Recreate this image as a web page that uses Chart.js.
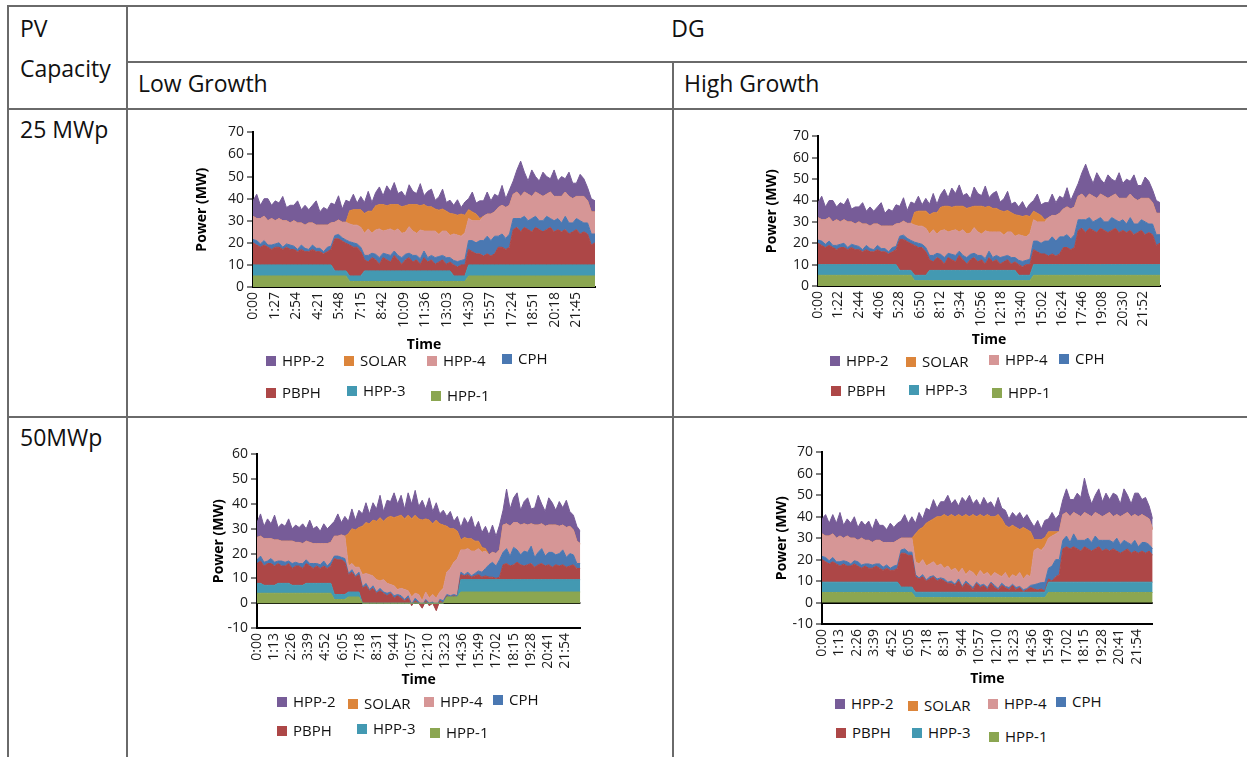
<!DOCTYPE html>
<html><head><meta charset="utf-8">
<script src="https://cdn.jsdelivr.net/npm/chart.js@4.4.0/dist/chart.umd.min.js"></script>
<style>
html,body{margin:0;padding:0;background:#fff}
body{width:1247px;height:757px;overflow:hidden;position:relative;font-family:"Open Sans",sans-serif;color:#111}
.ln{position:absolute;background:#6a6a6a}
.t{position:absolute;font-size:23px;line-height:23px;white-space:nowrap}
canvas{position:absolute}
.li{position:absolute;height:16px;white-space:nowrap;font-size:15px;line-height:15px}
.li i{position:absolute;left:0;top:3px;width:10px;height:10px}
.li span{position:absolute;left:16px;top:0}
</style></head><body>
<div class="ln" style="left:7px;top:5px;width:1240px;height:2px"></div>
<div class="ln" style="left:126px;top:61px;width:1121px;height:2px"></div>
<div class="ln" style="left:7px;top:108px;width:1240px;height:2px"></div>
<div class="ln" style="left:7px;top:416px;width:1240px;height:2px"></div>
<div class="ln" style="left:7px;top:5px;width:2px;height:752px"></div>
<div class="ln" style="left:126px;top:5px;width:2px;height:752px"></div>
<div class="ln" style="left:672px;top:61px;width:2px;height:696px"></div>
<div class="t" style="left:20px;top:17px">PV</div>
<div class="t" style="left:20px;top:57px">Capacity</div>
<div class="t" style="left:688px;top:17px;transform:translateX(-50%)">DG</div>
<div class="t" style="left:138px;top:72px">Low Growth</div>
<div class="t" style="left:684px;top:72px">High Growth</div>
<div class="t" style="left:20px;top:118px">25 MWp</div>
<div class="t" style="left:20px;top:426px">50MWp</div>
<canvas id="c1"></canvas><canvas id="c2"></canvas><canvas id="c3"></canvas><canvas id="c4"></canvas>
<script>
// ---------- categories / tick labels ----------
const TIME = [0,15,30,45,60,75,90,105,120,135,150,165,180,195,210,225,240,255,270,285,300,315,330,345,360,375,390,405,420,435,450,465,480,495,510,525,540,555,570,585,600,615,630,645,660,675,690,705,720,735,750,765,780,795,810,825,840,855,870,885,900,915,930,945,960,975,990,1005,1020,1035,1050,1065,1080,1095,1110,1125,1140,1155,1170,1185,1200,1215,1230,1245,1260,1275,1290,1305,1320,1335,1350,1365,1380];
const TICKS_A = ['0:00','1:27','2:54','4:21','5:48','7:15','8:42','10:09','11:36','13:03','14:30','15:57','17:24','18:51','20:18','21:45'];
const TICKS_B = ['0:00','1:22','2:44','4:06','5:28','6:50','8:12','9:34','10:56','12:18','13:40','15:02','16:24','17:46','19:08','20:30','21:52'];
const TICKS_C = ['0:00','1:13','2:26','3:39','4:52','6:05','7:18','8:31','9:44','10:57','12:10','13:23','14:36','15:49','17:02','18:15','19:28','20:41','21:54'];
const TICKS_D = ['0:00','1:13','2:26','3:39','4:52','6:05','7:18','8:31','9:44','10:57','12:10','13:23','14:36','15:49','17:02','18:15','19:28','20:41','21:54'];
const SERIES = ['HPP-1','HPP-3','PBPH','CPH','HPP-4','SOLAR','HPP-2'];
const LEGEND_ORDER = ['HPP-2','SOLAR','HPP-4','CPH','PBPH','HPP-3','HPP-1'];

// ---------- 25 MWp (Low and High Growth share the same profile) ----------
const A_HPP1 = [5,5,5,5,5,5,5,5,5,5,5,5,5,5,5,5,5,5,5,5,5,5,5,5,5,5,
 2.5,2.5,2.5,2.5,2.5,2.5,2.5,2.5,2.5,2.5,2.5,2.5,2.5,2.5,2.5,2.5,2.5,2.5,2.5,2.5,2.5,2.5,2.5,2.5,2.5,2.5,2.5,2.5,2.5,2.5,2.5,2.5,
 5,5,5,5,5,5,5,5,5,5,5,5,5,5,5,5,5,5,5,5,5,5,5,5,5,5,5,5,5,5,5,5,5,5,5];
const A_HPP3 = [5,5,5,5,5,5,5,5,5,5,5,5,5,5,5,5,5,5,5,5,5,5, 2.3,2.3,2.3,2.3, 2.5,2.5,2.5,2.5,
 4.8,4.8,4.8,4.8,4.8,4.8,4.8,4.8,4.8,4.8,4.8,4.8,4.8,4.8,4.8,4.8,4.8,4.8,4.8,4.8,4.8,4.8,4.8,4.8, 2.5,2.5,2.5,2.5,
 5,5,5,5,5,5,5,5,5,5,5,5,5,5,5,5,5,5,5,5,5,5,5,5,5,5,5,5,5,5,5,5,5,5,5];
const A_PBPH = [10,9,8,9,8,7,8,8,7,8,7,7,6,7,6,6,7,6,6,5,6,7, 14.5,14.5,13.5,12.5, 14,13,13,11,
 5,4,6,5,3,6,5,4,7,5,3,5,6,4,5,3,6,4,5,3,4,5,3,4, 5,4,5,5, 7,6,5,5, 4,5,4,5, 8,8,7,8,
 16,17,15,17,16,15,17,16,15,16,17,15,16,15,16,14,15,16,14,15,14, 9,10];
const A_CPH = [1.5,2,1.5,2,1,2,1.5,2,1,1.5,2,1.5,1,2,1.5,1,2,1.5,1.5,1,2,1.5, 1.5,2,1.5,1.5, 1.5,2,1.5,2,
 2,3,2,2.5,3,2,2.5,3,2,2,3,2.5,2,3,2,2.5,3,2,2,3,2.5,2,3,2, 2,2.5,2,2.5, 4,5,5,6, 7,8,7,8, 5,6,5,6,
 5,4,6,5,4,6,5,4,5,6,4,5,5,4,6,5,4,5,6,4,5, 5,4];
const A_HPP4 = [10.5,10,11.5,11,11,12,10.5,11,12,10.5,10,11.5,12,10,10.5,12,10,10.5,10.5,12,10,10.5, 6,6.5,7,8, 8,8,8.5,9,
 10,12,9,11,13,10,11,12,9,12,11,10,12,11,10,13,9,12,11,12,10,11,12,10, 12,12,11,12, 10,9,10,9, 11,10,12,11, 13,13,14,13,
 11,12,10,11,12,10,11,12,11,10,12,11,10,12,11,12,11,10,11,12,10, 10,10];
const A_SOLAR = [0,0,0,0,0,0,0,0,0,0,0,0,0,0,0,0,0,0,0,0,0,0,0,0,0,0, 6,7,7,8,
 9,8,10,11,11,12,11,11,12,11,12,12,10,12,13,11,12,11,11,10,11,10,9,10, 9,9,10,8, 4,4,3,1,
 0,0,0,0,0,0,0,0,0,0,0,0,0,0,0,0,0,0,0,0,0,0,0,0,0,0,0,0,0,0,0];
const A_HPP2 = [7,11,6,8,10,6,9,7,11,6,8,7,10,6,9,6,8,11,6,8,7,9, 8,11,6,10, 4,7,3,6,
 5,9,4,6,8,4,9,6,10,5,7,4,9,6,5,10,4,7,8,4,6,9,4,6, 4,7,3,6, 5,9,5,8, 7,10,6,8, 5,9,4,7,
 6,10,16,9,6,12,7,6,11,8,6,12,7,9,6,11,7,6,10,8,6, 6,5];

// ---------- 50 MWp, Low Growth ----------
const C_HPP1 = [4,4,4,4,4,4,4,4,4,4,4,4,4,4,4,4,4,4,4,4,4,4, 1.5,1.5,1.5,1.5, 2.5,2.5,2.5,2.5,
 0,0,0,0,0,0,0,0,0,0,0,0,0,0,0,0,0,0,0,0,0,0,0,0, 2.5,2.5,2.5,2.5,
 4.5,4.5,4.5,4.5,4.5,4.5,4.5,4.5,4.5,4.5,4.5,4.5,4.5,4.5,4.5,4.5,4.5,4.5,4.5,4.5,4.5,4.5,4.5,4.5,4.5,4.5,4.5,4.5,4.5,4.5,4.5,4.5,4.5,4.5,4.5];
const C_HPP3 = [4,4, 3.2,3.2,3.2,3.2, 4,4,4,4, 3.2,3.2,3.2,3.2, 4,4,4,4,4,4,4,4, 2,2,2,2, 2,2,2,2,
 0,0,0,0,0,0,0,0,0,0,0,0,0,0,0,0,0,0,0,0,0,0,0,0, 0,0,0,0,
 5,5,5,5,5,5,5,5,5,5,5,5,5,5,5,5,5,5,5,5,5,5,5,5,5,5,5,5,5,5,5,5,5,5,5];
const C_PBPH = [8,9,7.8,8.8,8.8,7.8,8,7,7,8,6.8,7.8,7.8,6.8,8,7,6,7,6,7,6,7, 14.5,14,14,13, 7,8,6,7,
 6,7,5,6,4,5,4,3,4,2,3,2,1,2,-1,1,0,-2,1,-1,0,-3,1,0, 0.5,0,0.5,0, 2,1.5,2,1,1.5,2,1,1.5, 1,1,0.5,1,
 6,6.5,5.5,6,7,6,5.5,6,6.5,5,6,6.5,5.5,6,5,6,5.5,6,5,5.5,6, 4.5,4.5];
const C_CPH = [1.5,2,1.5,1,2,1.5,1,2,1.5,1,2,1.5,1,2,1.5,1,2,1,1.5,2,1,1.5, 1,1.5,1,1.5, 0.5,1,0.5,1,
 0.5,1,0.5,1,0.5,1,0.5,1,0.5,1,0.5,1,0.5,1,0.5,1,0.5,1,0.5,1,0.5,1,0.5,1, 0.5,0.5,0.5,0.5, 1,0.5,1,0.5,1,1.5,2,3, 5,6,5,7,
 5,6,4,7,5,4,6,5,7,4,5,6,4,5,6,4,5,6,4,5,4, 2,2];
const C_HPP4 = [9,8,9.5,9,8,9,8.5,8,8.5,8,9,8,8.5,8,7.5,8.5,8,8,8.5,7,9,8, 8,8,9,9, 3,2.5,3.5,2,
 5,4,6,4,5,3,5,4,3,4,2,3,4,2,3,2,3,2,3,2,3,4,3,5, 9,11,13,15, 9,10,9.5,10,9,9,8,7, 4,4,5,4,
 11,10,12,10,11,12,11,11,9,13,11,10,12,11,11,12,11,10,12,11,10, 9,8];
const C_SOLAR = [0,0,0,0,0,0,0,0,0,0,0,0,0,0,0,0,0,0,0,0,0,0,0,0,0,0, 13,14,15,16,
 19.5,20.5,20.5,22.5,23.5,25.5,23.5,26.5,27.5,27.5,29.5,29.5,28.5,30.5,31.5,31.5,30.5,32.5,29.5,31.5,28.5,31.5,27.5,25.5,
 18.5,16,13.5,11, 4,5,4,5,4,3,2,1,
 0,0,0,0,0,0,0,0,0,0,0,0,0,0,0,0,0,0,0,0,0,0,0,0,0,0,0];
const C_HPP2 = [6,9,5,8,6,10,5,7,6,9,5,7,6,8,5,9,6,7,5,8,6,7, 6,9,5,8, 5,8,4,7,
 5,8,4,7,5,9,4,7,6,10,5,8,4,9,6,10,5,8,4,9,5,7,4,6, 4,7,3,6, 5,8,6,9,5,8,6,9, 8,11,7,10,
 6,14,7,10,12,6,9,11,6,7,12,8,6,11,9,6,10,7,11,6,6, 6,5];

// ---------- 50 MWp, High Growth ----------
const D_HPP1 = [4.7,4.7,4.7,4.7,4.7,4.7,4.7,4.7,4.7,4.7,4.7,4.7,4.7,4.7,4.7,4.7,4.7,4.7,4.7,4.7,4.7,4.7,4.7,4.7,4.7,4.7,
 2.3,2.3,2.3,2.3,2.3,2.3,2.3,2.3,2.3,2.3,2.3,2.3,2.3,2.3,2.3,2.3,2.3,2.3,2.3,2.3,2.3,2.3,2.3,2.3,2.3,2.3,2.3,2.3,2.3,2.3,2.3,2.3,2.3,2.3,2.3,2.3,2.3,
 4.7,4.7,4.7,4.7,4.7,4.7,4.7,4.7,4.7,4.7,4.7,4.7,4.7,4.7,4.7,4.7,4.7,4.7,4.7,4.7,4.7,4.7,4.7,4.7,4.7,4.7,4.7,4.7,4.7,4.7,4.7,4.7,4.7,4.7];
const D_HPP3 = [4.8,4.8,4.8,4.8,4.8,4.8,4.8,4.8,4.8,4.8,4.8,4.8,4.8,4.8,4.8,4.8,4.8,4.8,4.8,4.8,4.8,4.8, 2.5,2.5,2.5,2.5,
 2.5,2.5,2.5,2.5,2.5,2.5,2.5,2.5,2.5,2.5,2.5,2.5,2.5,2.5,2.5,2.5,2.5,2.5,2.5,2.5,2.5,2.5,2.5,2.5,2.5,2.5,2.5,2.5,2.5,2.5,2.5,2.5,2.5,2.5,2.5,2.5,2.5,
 4.8,4.8,4.8,4.8,4.8,4.8,4.8,4.8,4.8,4.8,4.8,4.8,4.8,4.8,4.8,4.8,4.8,4.8,4.8,4.8,4.8,4.8,4.8,4.8,4.8,4.8,4.8,4.8,4.8,4.8,4.8,4.8,4.8,4.8];
const D_PBPH = [10.5,9.5,8.5,9.5,8.5,7.5,8.5,7.5,7.5,8.5,7.5,6.5,7.5,6.5,6.5,7.5,6.5,5.5,6.5,5.5,5.5,6.5, 15.8,15.8,14.8,14.8,
 7.2,6.2,7.2,5.2,6.2,7.2,5.2,6.2,5.2,4.2, 4.2,3.2,5.2,2.2,4.2,3.2,1.2,4.2,2.2,3.2,1.2,4.2,2.2,1.2,3.2,2.2,1.2,3.2,1.2,2.2,0.2,1.2,2.2,
 1.5,1,1.5,0.5,1.5,0.5,2.5,3.5,
 15.5,16.5,15.5,16.5,15.5,14.5,16.5,15.5,14.5,15.5,16.5,14.5,15.5,14.5,15.5,14.5,13.5,14.5,15.5,13.5,14.5,13.5,14.5,13.5,14.5, 12.5];
const D_CPH = [1.5,2,1.5,2,1,2,1.5,2,1,1.5,2,1.5,1,2,1.5,1,2,1.5,1.5,1,2,1.5, 1.5,2,1.5,1.5,
 1,0.5,1,0.5,1,0.5,1,0.5,1,0.5,1,0.5,1,0.5,1,0.5,1,0.5,1,0.5,1,0.5,1,0.5,1,0.5,1,0.5,1,0.5,1,0.5,1,
 2,3,3,4,5,7,8,7,
 4,5,3,6,4,5,3,5,4,6,3,5,4,5,3,6,4,5,3,4,5,3,4,5,3, 3];
const D_HPP4 = [10.5,10,11.5,11,11,12,10.5,12,12,10.5,10,12.5,11,11,10.5,11,11,11.5,10.5,12,11,11.5, 5.5,5,6.5,6.5,
 6,6.5,7,6.5,6,6.5,6,6.5,5,7.5,5,7.5,3,8.5,3,6.5,7,2.5,7,4.5,7,2.5,6,6.5,3,6.5,4,4.5,5,6.5,5,6.5,4,
 16,16.5,15,17,14,14,12,13,
 12,11,12,10,12,11,13,11,12,11,12,11,12,13,12,11,13,12,14,13,12,14,13,12,12, 9];
const D_SOLAR = [0,0,0,0,0,0,0,0,0,0,0,0,0,0,0,0,0,0,0,0,0,0,0,0,0,0,
 13,16,15,20,20,20,23,22,25,23,26,24,27,24,28,25,27,28,26,27,27,28,26,28,27,22,24,23,23,20,24,21,21,
 5,4,5,4,3,2,1,0,
 0,0,0,0,0,0,0,0,0,0,0,0,0,0,0,0,0,0,0,0,0,0,0,0,0,0];
const D_HPP2 = [7,10,6,9,7,11,6,8,7,10,6,8,7,9,6,10,7,8,6,9,7,8, 8,11,7,10,
 5,8,4,7,5,9,4,7,6,10,5,8,4,9,6,10,5,8,4,9,5,7,4,8,5,7,4,6,5,8,4,7,5,
 6,9,5,8,6,9,6,8,
 7,11,8,6,10,9,16,10,6,8,12,7,10,6,11,9,6,12,8,6,10,11,7,9,6, 5];

// ---------- assembling ----------
const COLORS = {'HPP-2':'#775c98','SOLAR':'#dc853b','HPP-4':'#d69696','CPH':'#4a78b2','PBPH':'#ad4747','HPP-3':'#4399b2','HPP-1':'#8ba651'};
const SET_A = {'HPP-1':A_HPP1,'HPP-3':A_HPP3,'PBPH':A_PBPH,'CPH':A_CPH,'HPP-4':A_HPP4,'SOLAR':A_SOLAR,'HPP-2':A_HPP2};
const SET_C = {'HPP-1':C_HPP1,'HPP-3':C_HPP3,'PBPH':C_PBPH,'CPH':C_CPH,'HPP-4':C_HPP4,'SOLAR':C_SOLAR,'HPP-2':C_HPP2};
const SET_D = {'HPP-1':D_HPP1,'HPP-3':D_HPP3,'PBPH':D_PBPH,'CPH':D_CPH,'HPP-4':D_HPP4,'SOLAR':D_SOLAR,'HPP-2':D_HPP2};

Chart.defaults.font.family = '"Open Sans", sans-serif';
Chart.defaults.color = '#1a1a1a';

const toMin = s => { const p = s.split(':'); return (+p[0]) * 60 + (+p[1]); };

const CHARTS = [
  {id:'c1', set:SET_A, ticks:TICKS_A, min:0, max:70, L:253, T:131, R:595, B:287, yw:61, xh:68,
   leg:[[13,69],[91,69],[174,69],[249,67],[13,101],[94,99],[178,104]]},
  {id:'c2', set:SET_A, ticks:TICKS_B, min:0, max:70, L:818, T:135, R:1160, B:286, yw:56, xh:64,
   leg:[[12,70],[88,71],[171,69],[241,68],[13,100],[91,99],[174,102]]},
  {id:'c3', set:SET_C, ticks:TICKS_C, min:-10, max:60, L:257, T:453, R:581, B:628, yw:48, xh:62,
   leg:[[20,69],[91,71],[167,69],[236,67],[20,98],[100,96],[173,100]]},
  {id:'c4', set:SET_D, ticks:TICKS_D, min:-10, max:70, L:822, T:451, R:1153, B:624, yw:50, xh:65,
   leg:[[13,75],[86,77],[166,75],[234,73],[14,104],[90,104],[167,108]]}
];

const PADT = 10, PADR = 6;
CHARTS.forEach(c => {
  const cv = document.getElementById(c.id);
  const w = (c.R - c.L) + c.yw + PADR, h = (c.B - c.T) + PADT + c.xh;
  cv.width = w; cv.height = h;
  cv.style.left = (c.L - c.yw) + 'px'; cv.style.top = (c.T - PADT) + 'px';
  cv.style.width = w + 'px'; cv.style.height = h + 'px';
  const tickVals = c.ticks.map(toMin);
  const datasets = SERIES.map((name, k) => ({
    label: name,
    data: TIME.map((t, i) => ({x: t, y: c.set[name][i]})),
    backgroundColor: COLORS[name],
    borderColor: COLORS[name],
    borderWidth: 1,
    pointRadius: 0,
    tension: 0,
    fill: k === 0 ? 'origin' : '-1'
  }));
  new Chart(cv, {
    type: 'line',
    data: {datasets},
    options: {
      responsive: false, animation: false, devicePixelRatio: 1,
      layout: {padding: {top: PADT, right: PADR, left: 0, bottom: 0}},
      plugins: {legend: {display: false}, tooltip: {enabled: false}},
      scales: {
        x: {
          type: 'linear', min: 0, max: TIME[TIME.length - 1],
          afterBuildTicks: s => { s.ticks = tickVals.map(v => ({value: v})); },
          afterFit: s => { s.height = c.xh; },
          ticks: {autoSkip: false, minRotation: 90, maxRotation: 90, padding: 5,
                  font: {size: 14}, color: '#1a1a1a', callback: (v, i) => c.ticks[i]},
          grid: {display: true, drawOnChartArea: false, drawTicks: false},
          border: {display: true, color: '#000', width: 2},
          title: {display: true, text: 'Time', font: {size: 14, weight: 'bold'}, color: '#000', padding: {top: 0, bottom: 2}}
        },
        y: {
          stacked: 'single', min: c.min, max: c.max, z: 1,
          afterFit: s => { s.width = c.yw; },
          ticks: {stepSize: 10, padding: 3, font: {size: 14}, color: '#1a1a1a'},
          grid: {drawOnChartArea: true, drawTicks: true, tickLength: 6, tickWidth: 1, tickColor: '#000',
                 lineWidth: 2, color: ctx => (ctx.tick && ctx.tick.value === 0 && c.min < 0) ? '#000' : 'rgba(0,0,0,0)'},
          border: {display: true, color: '#000', width: 2},
          title: {display: true, text: 'Power (MW)', font: {size: 14, weight: 'bold'}, color: '#000', padding: {top: 2, bottom: 0}}
        }
      }
    }
  });
  LEGEND_ORDER.forEach((name, k) => {
    const d = document.createElement('div');
    d.className = 'li';
    d.style.left = (c.L + c.leg[k][0]) + 'px';
    d.style.top = (c.B + c.leg[k][1] - 3) + 'px';
    const b = document.createElement('i'); b.style.background = COLORS[name];
    const s = document.createElement('span'); s.textContent = name;
    d.appendChild(b); d.appendChild(s);
    document.body.appendChild(d);
  });
});
</script>
</body></html>
